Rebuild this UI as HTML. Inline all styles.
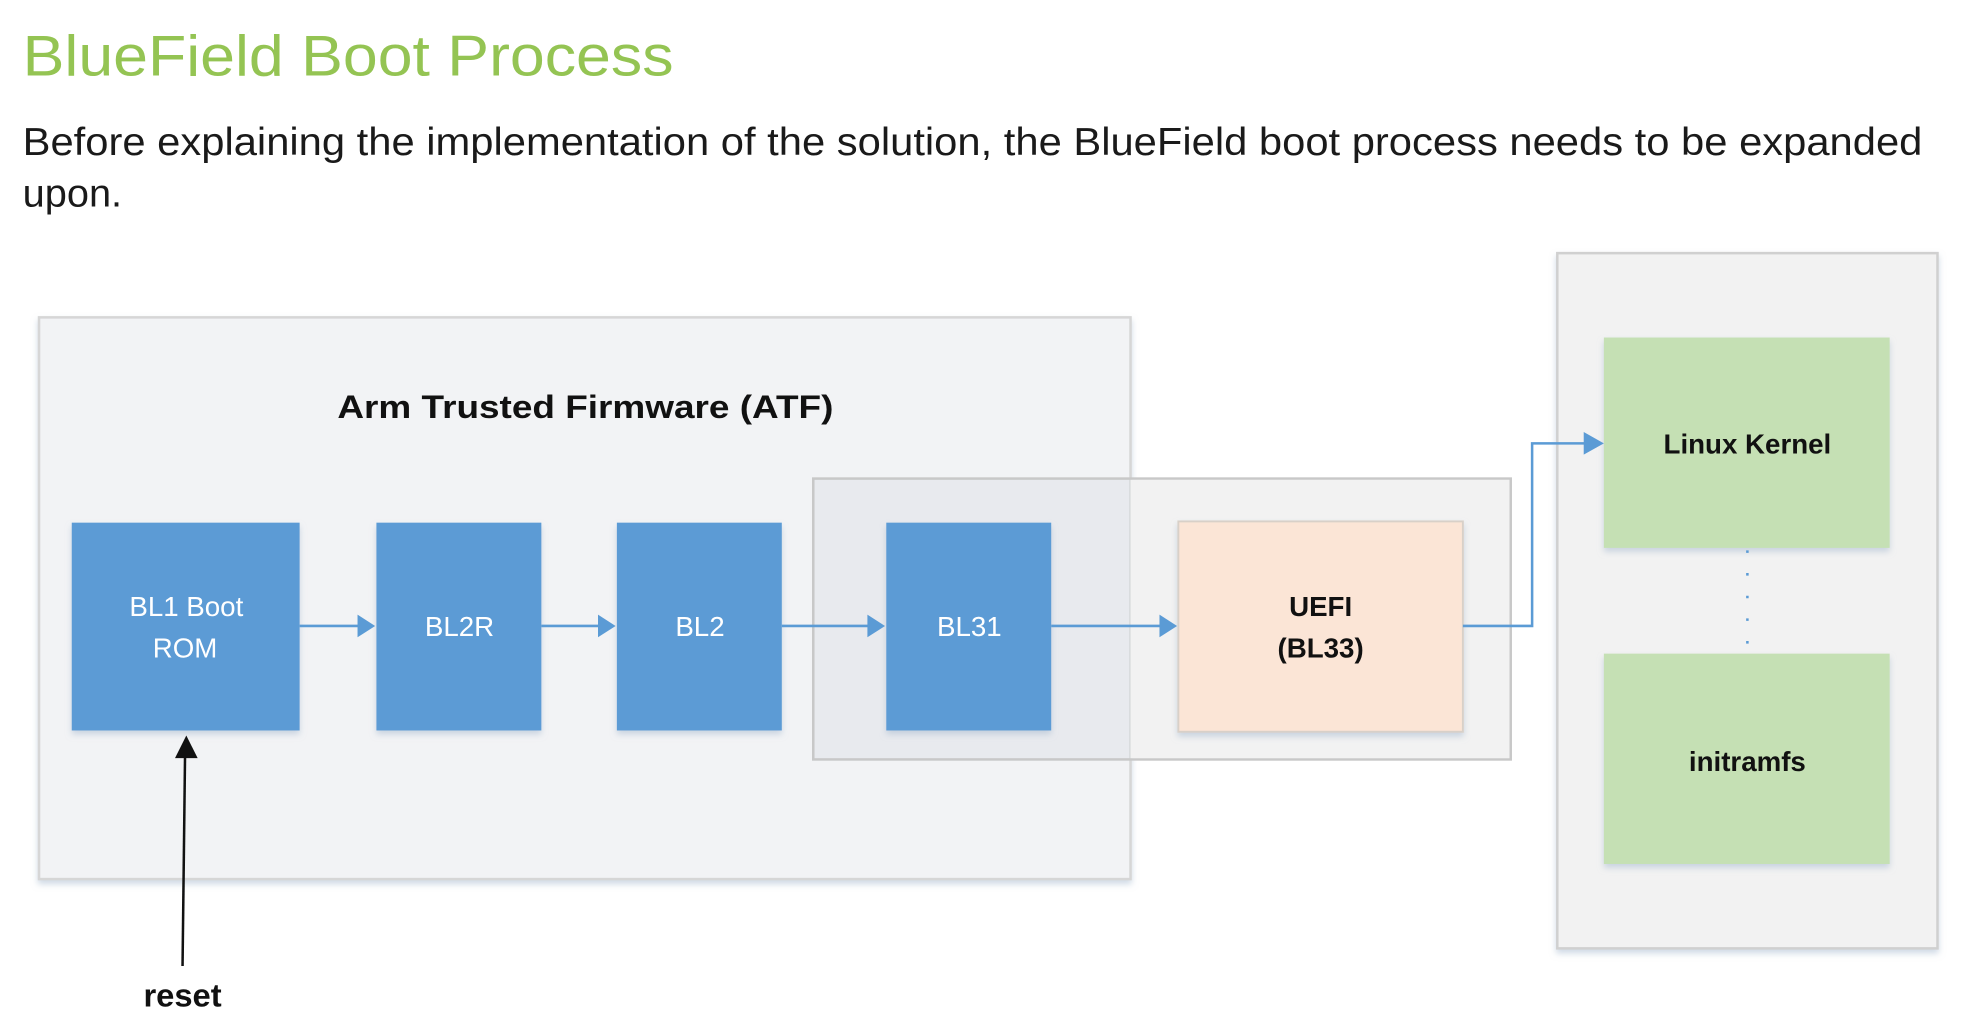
<!DOCTYPE html>
<html><head><meta charset="utf-8"><style>
html,body{margin:0;padding:0;background:#fff;}
svg{display:block;}
</style></head><body>
<svg width="1974" height="1034" viewBox="0 0 1568 821" preserveAspectRatio="none" xmlns="http://www.w3.org/2000/svg" font-family="Liberation Sans, sans-serif">
<defs>
<filter id="sh" x="-5%" y="-5%" width="110%" height="115%"><feDropShadow dx="0" dy="3" stdDeviation="2.5" flood-color="#9fb3cc" flood-opacity="0.5"/></filter>
</defs>
<text x="18" y="60" font-size="46" fill="#94c453" textLength="517" lengthAdjust="spacingAndGlyphs">BlueField Boot Process</text>
<text x="18" y="123" font-size="31" fill="#1a1a1a" textLength="1509" lengthAdjust="spacingAndGlyphs">Before explaining the implementation of the solution, the BlueField boot process needs to be expanded</text>
<text x="18" y="164" font-size="31" fill="#1a1a1a" textLength="79" lengthAdjust="spacingAndGlyphs">upon.</text>

<rect x="1237" y="201" width="302" height="552" fill="#f2f2f2" stroke="#d0d0d0" stroke-width="2" filter="url(#sh)"/>
<rect x="31" y="252" width="867" height="446" fill="#f2f3f5" stroke="#d6d6d6" stroke-width="2" filter="url(#sh)"/>
<text x="465" y="332" font-size="26" font-weight="bold" text-anchor="middle" fill="#111" textLength="394" lengthAdjust="spacingAndGlyphs">Arm Trusted Firmware (ATF)</text>
<rect x="646" y="380" width="554" height="223" fill="#cfd6de" fill-opacity="0.3" stroke="#c8c8c8" stroke-width="2"/>
<rect x="898" y="381" width="301" height="221" fill="#f2f2f2"/>

<g filter="url(#sh)">
<rect x="57" y="415" width="181" height="165" fill="#5b9bd5"/>
<rect x="299" y="415" width="131" height="165" fill="#5b9bd5"/>
<rect x="490" y="415" width="131" height="165" fill="#5b9bd5"/>
<rect x="704" y="415" width="131" height="165" fill="#5b9bd5"/>
<rect x="936" y="414" width="226" height="167" fill="#fbe5d6" stroke="#d8d0c8" stroke-width="1.5"/>
<rect x="1274" y="268" width="227" height="167" fill="#c5e0b4"/>
<rect x="1274" y="519" width="227" height="167" fill="#c5e0b4"/>
</g>
<g fill="#fff" font-size="22" text-anchor="middle">
<text x="148" y="489">BL1 Boot</text>
<text x="147" y="522">ROM</text>
<text x="365" y="505">BL2R</text>
<text x="556" y="505">BL2</text>
<text x="770" y="505">BL31</text>
</g>
<g fill="#111" font-size="22" font-weight="bold" text-anchor="middle">
<text x="1049" y="489">UEFI</text>
<text x="1049" y="522">(BL33)</text>
<text x="1388" y="360">Linux Kernel</text>
<text x="1388" y="612">initramfs</text>
<text x="145" y="799" font-size="26">reset</text>
</g>
<g stroke="#5b9bd5" stroke-width="2" fill="none">
<line x1="238" y1="497" x2="286" y2="497"/>
<line x1="430" y1="497" x2="477" y2="497"/>
<line x1="621" y1="497" x2="691" y2="497"/>
<line x1="835" y1="497" x2="923" y2="497"/>
<polyline points="1162,497 1217,497 1217,352 1261,352"/>
<line x1="1388" y1="437" x2="1388" y2="517" stroke-dasharray="2,16" stroke-width="2"/>
</g>
<g fill="#5b9bd5">
<polygon points="298,497 284,488 284,506"/>
<polygon points="489,497 475,488 475,506"/>
<polygon points="703,497 689,488 689,506"/>
<polygon points="935,497 921,488 921,506"/>
<polygon points="1274,352 1258,343 1258,361"/>
</g>
<line x1="145" y1="767" x2="147" y2="598" stroke="#111" stroke-width="2"/>
<polygon points="148,584 139,602 157,602" fill="#111"/>
</svg>
</body></html>
